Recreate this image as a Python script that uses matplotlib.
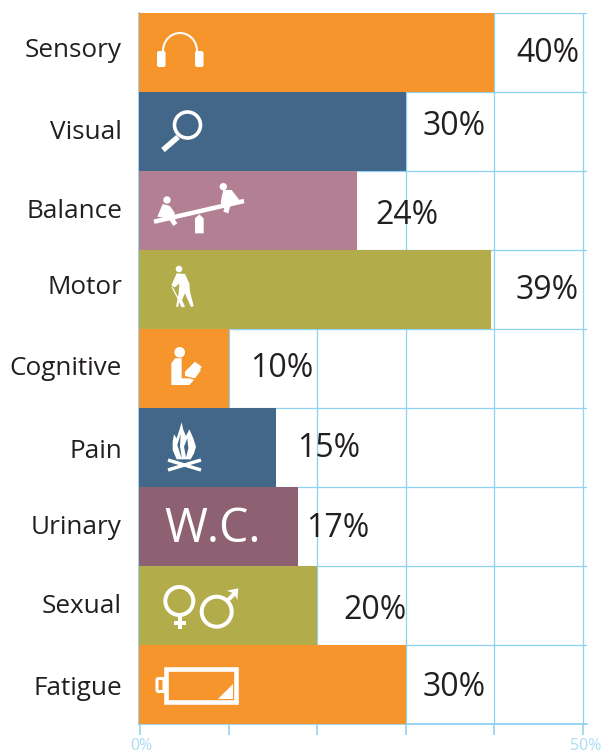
import matplotlib
matplotlib.use("Agg")
import matplotlib.pyplot as plt
from matplotlib.patches import Arc, Circle, FancyBboxPatch, Polygon, Rectangle
from matplotlib.transforms import ScaledTranslation

# data
categorias = ["Sensory", "Visual", "Balance", "Motor", "Cognitive", "Pain", "Urinary", "Sexual", "Fatigue"]
valores = [40, 30, 24, 39, 10, 15, 17, 20, 30]
# comprimento desenhado das barras
comprimentos = [40, 30, 24.5, 39.6, 10, 15.3, 17.8, 20, 30]

LARANJA = "#F7952D"
AZUL = "#426788"
ROSA = "#B27F93"
OLIVA = "#B3AC4A"
VINHO = "#8D6171"
cores = [LARANJA, AZUL, ROSA, OLIVA, LARANJA, AZUL, VINHO, OLIVA, LARANJA]
GRADE = "#8FD2F2"
TEXTO = "#231F20"
BRANCO = "white"

# ajustes finos dos rotulos, em pixels
desloc_valor = [(53, 1), (48, -5), (50, 5), (56, 1), (53, 0), (53, 1), (40, 2), (58, 5), (48, 3)]
desloc_cat = [-5, -2, -2, -5, -3, 1, -2, -2, 1]

plt.rcParams["font.family"] = ["Open Sans", "DejaVu Sans"]
LARG, ALT = 601, 754
fig = plt.figure(figsize=(LARG / 100, ALT / 100), dpi=100)
PX = 0.72  # pixels para pontos

# eixo principal
ax = fig.add_axes([139.4 / LARG, 1 - 724 / ALT, (586.7 - 139.4) / LARG, (724 - 13) / ALT])
ax.set_xlim(-0.1, 50.42)
ax.set_ylim(len(categorias), 0)
ax.set_axisbelow(True)

ax.barh([i + 0.5 for i in range(len(comprimentos))], [c + 0.1 for c in comprimentos], height=1, left=-0.1,
        color=cores, zorder=3)

ax.set_xticks(range(0, 60, 10))
ax.set_xticklabels(["0%", "", "", "", "", "50%"], fontsize=11.5, color="#ABDCF4")
ax.tick_params(axis="x", length=11 * PX, width=1.6 * PX, color=GRADE, pad=2.5)
rotulos = ax.get_xticklabels()
for rot, dx in [(rotulos[0], 1.5), (rotulos[5], 2.5)]:
    rot.set_transform(rot.get_transform() + ScaledTranslation(dx / 100, 0, fig.dpi_scale_trans))
ax.set_yticks(range(len(categorias) + 1))
ax.tick_params(axis="y", length=0, labelleft=False)
ax.grid(True, color=GRADE, linewidth=1.3 * PX)
for lado in ["top", "right"]:
    ax.spines[lado].set_visible(False)
for lado in ["left", "bottom"]:
    ax.spines[lado].set_color(GRADE)
    ax.spines[lado].set_linewidth(1.8 * PX)

for i, (cat, v, c) in enumerate(zip(categorias, valores, comprimentos)):
    ax.annotate(cat, (0, i + 0.5), xytext=(-18.4 * PX, -desloc_cat[i] * PX - 3 * PX), textcoords="offset points",
                ha="right", va="center", fontsize=18.8, color=TEXTO, annotation_clip=False)
    dx, dy = desloc_valor[i]
    ax.annotate(f"{v}%", (c, i + 0.5), xytext=(dx * PX, -dy * PX), textcoords="offset points",
                ha="center", va="center", fontsize=23, color=TEXTO, zorder=5, annotation_clip=False)

# camada dos icones, em pixels da imagem
ic = fig.add_axes([0, 0, 1, 1], facecolor="none")
ic.set_xlim(0, LARG)
ic.set_ylim(ALT, 0)
ic.axis("off")


def poli(pts, cor=BRANCO, dx=130, dy=0):
    ic.add_patch(Polygon([(dx + x / 3, dy + y / 3) for x, y in pts], closed=True, fc=cor, ec="none"))


def linha(x, y, lw, cor=BRANCO):
    ic.plot(x, y, color=cor, lw=lw * PX, solid_capstyle="butt")


def anel(x, y, r, lw):
    ic.add_patch(Circle((x, y), r, fc="none", ec=BRANCO, lw=lw * PX))


# fones
ic.add_patch(Arc((180, 51), 34, 36, theta1=180, theta2=360, ec=BRANCO, lw=2 * PX))
for x0 in (157, 195):
    ic.add_patch(FancyBboxPatch((x0 + 2, 53), 4.5, 12, boxstyle="round,pad=2", fc=BRANCO, ec="none"))

# lupa
anel(187.5, 125, 13, 3.6)
linha([178, 163], [137, 150], 5.5)

# gangorra
linha([154, 244], [221.7, 201], 4.5)
poli([(195, 700), (195, 655), (208, 643), (221, 655), (221, 700)])
ic.add_patch(Circle((167, 200), 3.7, fc=BRANCO, ec="none"))
ic.add_patch(Circle((223.3, 186.7), 3.7, fc=BRANCO, ec="none"))
poli([(98, 612), (120, 618), (135, 640), (130, 650), (142, 670), (130, 678), (115, 655), (82, 650)])
poli([(280, 570), (305, 570), (328, 600), (300, 620), (295, 640), (280, 635), (285, 615), (272, 610), (275, 590)])

# caminhante
ic.add_patch(Circle((179, 269), 3.3, fc=BRANCO, ec="none"))
poli([(140, 70), (165, 72), (178, 100), (180, 125), (191, 168), (183, 171), (165, 130), (156, 150), (165, 170),
      (155, 172), (147, 155), (145, 170), (138, 170), (146, 130), (148, 100), (135, 112), (124, 106)], dy=250)
linha([172, 182], [287, 306], 1.2)

# leitor
ic.add_patch(Circle((179.7, 352.3), 5.3, fc=BRANCO, ec="none"))
poli([(124, 340), (135, 325), (155, 325), (155, 385), (178, 385), (192, 390), (178, 405), (124, 405)], dy=250)
poli([(165, 365), (195, 335), (215, 350), (210, 358), (213, 360), (195, 385), (165, 378)], dy=250)

# fogueira
poli([(155, 517), (160, 540), (168, 558), (178, 538), (190, 565), (198, 590), (192, 610), (182, 628), (140, 628),
      (128, 600), (128, 575), (132, 553), (140, 565), (148, 540)], dy=250)
poli([(152, 552), (142, 585), (150, 610), (156, 625), (150, 590)], AZUL, dy=250)
poli([(172, 565), (162, 590), (168, 622), (175, 595)], AZUL, dy=250)
linha([168, 201], [460, 470], 3.4)
linha([168, 201], [470, 460], 3.4)

# W.C.
ic.text(164, 529, "W.C.", color=BRANCO, fontsize=33.5, va="center", ha="left")

# feminino e masculino
anel(179.3, 601, 14, 4)
linha([179.7, 179.7], [615, 628.5], 4)
linha([174, 186], [622.5, 622.5], 4)
anel(216.7, 611.7, 15, 4)
linha([227, 236], [601, 592], 4)
poli([(290, 272), (325, 265), (322, 300), (312, 280)], dy=500)

# bateria
ic.add_patch(Rectangle((166, 669.3), 70, 32.3, fc="none", ec=BRANCO, lw=4.6 * PX))
poli([(265, 597), (310, 597), (310, 553)], dy=500)
ic.add_patch(FancyBboxPatch((158.5, 680), 4, 10, boxstyle="round,pad=1.5", fc="none", ec=BRANCO, lw=3 * PX))

fig.savefig("out.png", dpi=100)
